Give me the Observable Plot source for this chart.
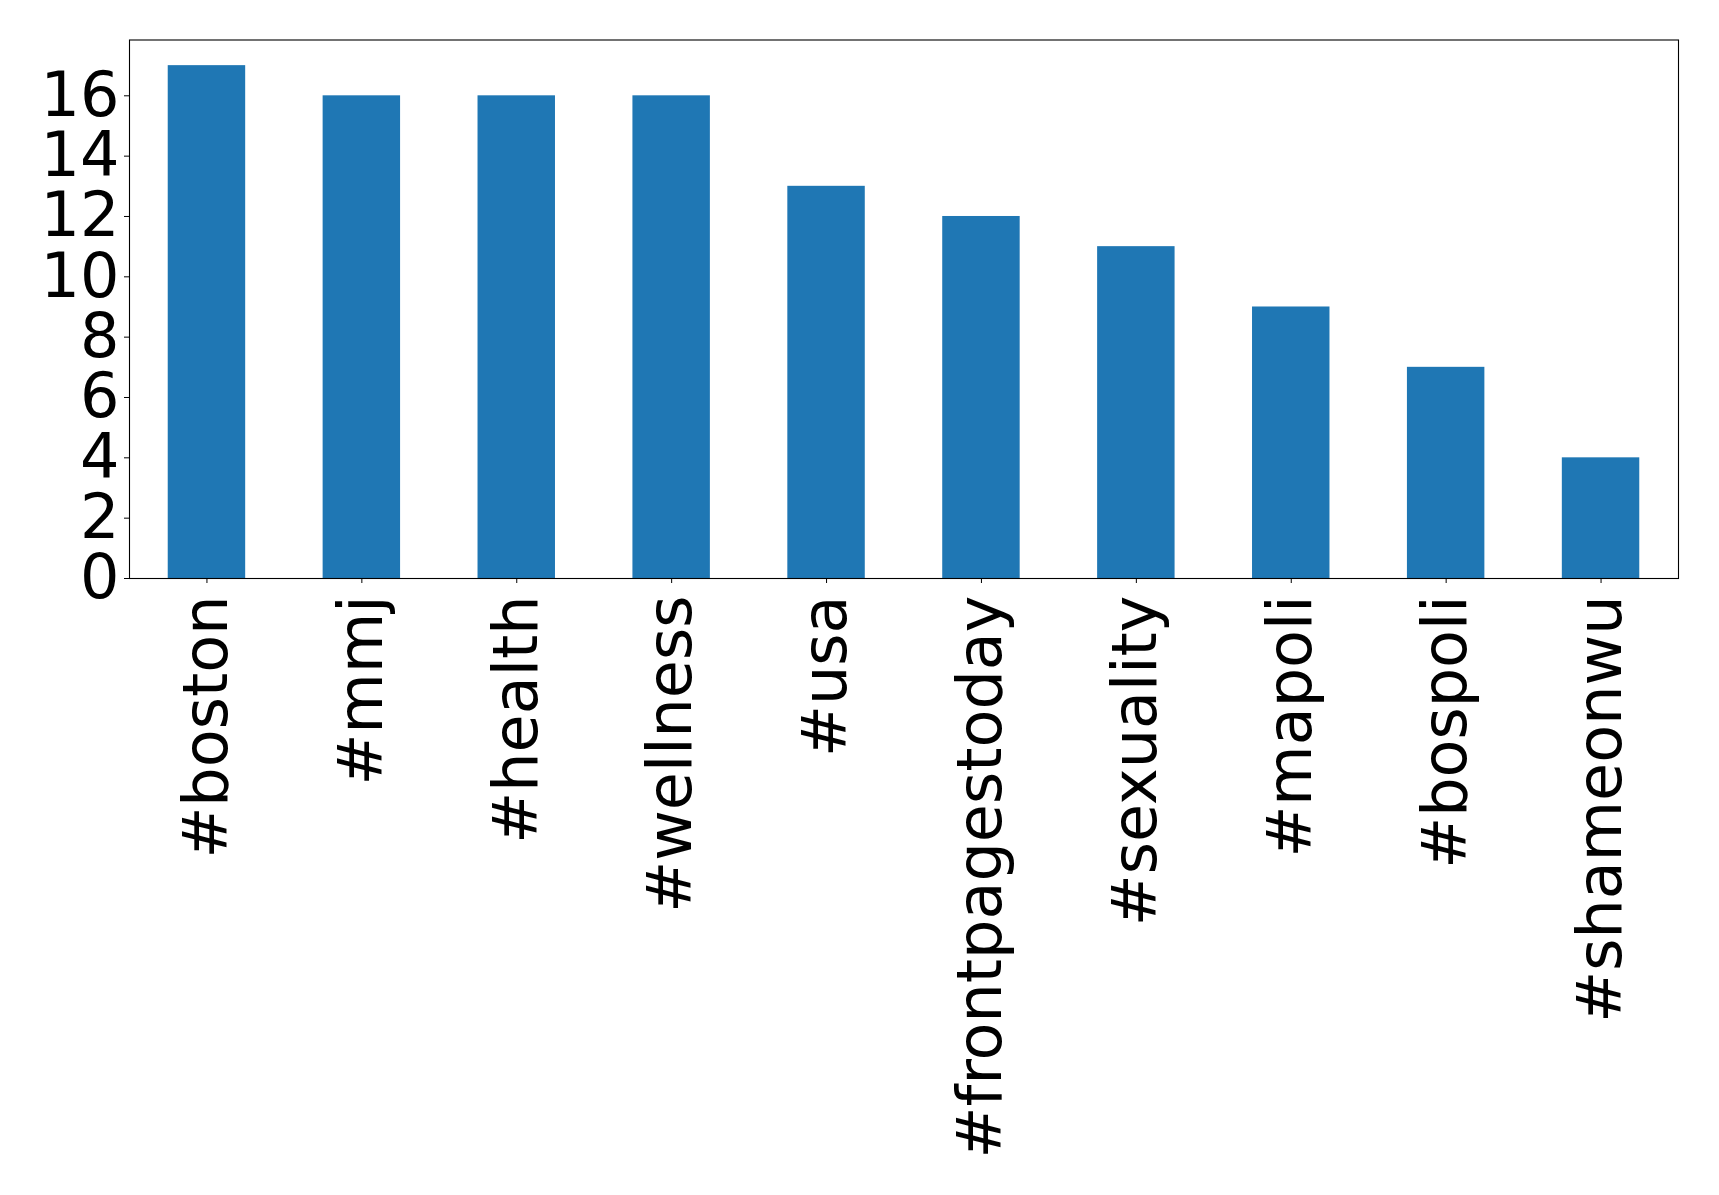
<!DOCTYPE html>
<html>
<head>
<meta charset="utf-8">
<script src="https://cdn.jsdelivr.net/npm/d3@7"></script>
<script src="https://cdn.jsdelivr.net/npm/@observablehq/plot@0.6"></script>
<style>
  html, body { margin: 0; padding: 0; background: #fff; }
  svg { display: block; }
</style>
</head>
<body>
<div id="chart"></div>
<script>
const hashtags = ["#boston", "#mmj", "#health", "#wellness", "#usa", "#frontpagestoday", "#sexuality", "#mapoli", "#bospoli", "#shameonwu"];
const counts = [17, 16, 16, 16, 13, 12, 11, 9, 7, 4];
const yTicks = [0, 2, 4, 6, 8, 10, 12, 14, 16];

const data = hashtags.map((h, i) => ({tag: h, count: counts[i]}));

const chart = Plot.plot({
  width: 1719,
  height: 1195,
  marginLeft: 129,
  marginRight: 41,
  marginTop: 39.5,
  marginBottom: 617,
  style: {fontFamily: "DejaVu Sans", fontSize: "62px", color: "#000", background: "#fff"},
  x: {domain: hashtags, paddingInner: 0.5, paddingOuter: 0.25, round: false, label: null},
  y: {domain: [0, 17.85], label: null},
  marks: [
    Plot.barY(data, {x: "tag", y: "count", fill: "#1f77b4"}),
    Plot.axisY({ticks: yTicks, tickSize: 5, tickPadding: 5, fontSize: 62, label: null, stroke: "#000"}),
    Plot.axisX({tickSize: 5, tickPadding: 12, tickRotate: -90, fontSize: 62, label: null, stroke: "#000"}),
    Plot.frame({stroke: "#000", strokeWidth: 1.1})
  ]
});
document.getElementById("chart").appendChild(chart);
</script>
</body>
</html>
